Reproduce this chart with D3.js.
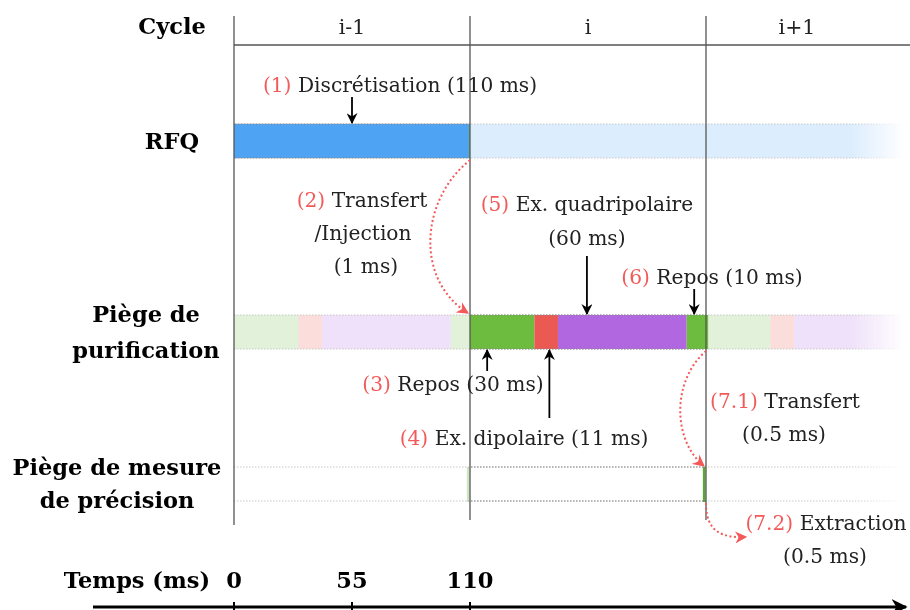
<!DOCTYPE html>
<html>
<head>
<meta charset="utf-8">
<script src="https://cdn.jsdelivr.net/npm/d3@7"></script>
<style>
  body { margin: 0; background: #fff; }
  svg text { font-family: "DejaVu Serif", serif; }
</style>
</head>
<body>
<div id="container"></div>
<script>
/** DATA */
const cycles = ["i-1", "i", "i+1"];
const cycleStart = [0, 110, 220];
const rowNames = [["RFQ"], ["Piège de", "purification"], ["Piège de mesure", "de précision"]];
const rfqDur = 110;          // discretisation
const transferDur = 1;        // transfert / injection
const purifPhases = ["Repos", "Ex. dipolaire", "Ex. quadripolaire", "Repos"];
const purifDur = [30, 11, 60, 10];
const purifColors = ["#6dbb3f", "#eb5a52", "#b067e0", "#6dbb3f"];
const measureDur = [0.5, 0.5]; // transfert, extraction
const timeTicks = [0, 55, 110];

/** LAYOUT */
const width = 910, height = 610;
const red = "#f25a5a";
const barH = 34;
const rowTop = [124, 315, 467];
const fadeOp = 0.2;

const x = d3.scaleLinear().domain([0, 110]).range([234, 470]);

const svg = d3.select("#container").append("svg")
  .attr("width", width).attr("height", height);

const defs = svg.append("defs");
const grad = defs.append("linearGradient").attr("id", "fade")
  .attr("gradientUnits", "userSpaceOnUse")
  .attr("x1", 850).attr("x2", 905).attr("y1", 0).attr("y2", 0);
grad.append("stop").attr("offset", 0).attr("stop-color", "#fff");
grad.append("stop").attr("offset", 1).attr("stop-color", "#000");
defs.append("mask").attr("id", "fadeMask")
  .attr("maskUnits", "userSpaceOnUse")
  .attr("x", 0).attr("y", 0).attr("width", width).attr("height", height)
  .append("rect").attr("width", width).attr("height", height).attr("fill", "url(#fade)");

function marker(id, color, size) {
  defs.append("marker").attr("id", id)
    .attr("viewBox", "0 0 10 10").attr("refX", 9).attr("refY", 5)
    .attr("markerWidth", size).attr("markerHeight", size)
    .attr("markerUnits", "userSpaceOnUse")
    .attr("orient", "auto")
    .append("path").attr("d", "M0,0 L10,5 L0,10 L3,5 Z").attr("fill", color);
}
marker("arrBlack", "#000", 11);
marker("arrRed", red, 12);
marker("arrAxis", "#000", 16);

const faded = svg.append("g").attr("mask", "url(#fadeMask)");
const main = svg.append("g");

// ---- RFQ
const rfqY = rowTop[0];
cycleStart.forEach((s, i) => {
  const g = i === 0 ? main : faded;
  const op = i === 0 ? 1 : fadeOp;
  g.append("rect").attr("x", x(s)).attr("y", rfqY)
    .attr("width", x(s + rfqDur) - x(s)).attr("height", barH)
    .attr("fill", "#4fa3f3").attr("opacity", op);
});
main.append("rect").attr("x", x(rfqDur - transferDur / 2)).attr("y", rfqY)
  .attr("width", x(transferDur / 2) - x(0)).attr("height", barH).attr("fill", "#6dbb3f");

// ---- purification
const pY = rowTop[1];
cycleStart.forEach((s, i) => {
  const g = i === 1 ? main : faded;
  const op = i === 1 ? 1 : fadeOp;
  let t = s;
  purifDur.forEach((d, k) => {
    g.append("rect").attr("x", x(t)).attr("y", pY)
      .attr("width", x(t + d) - x(t)).attr("height", barH)
      .attr("fill", purifColors[k]).attr("opacity", op);
    t += d;
  });
});

// ---- measure trap
const mY = rowTop[2];
cycleStart.slice(0, 2).forEach((s, i) => {
  const tot = d3.sum(measureDur);
  main.append("rect").attr("x", x(s + 110 - tot) - 1).attr("y", mY)
    .attr("width", x(tot) - x(0) + 0.5).attr("height", barH + 1)
    .attr("fill", "#5aa832").attr("opacity", i === 0 ? 0.3 : 1);
});

// dotted borders
rowTop.forEach((ty, r) => {
  [ty, ty + barH].forEach(yy => {
    faded.append("line").attr("x1", x(0)).attr("x2", width)
      .attr("y1", yy).attr("y2", yy)
      .attr("stroke", "#c8c8c8").attr("stroke-width", 1).attr("stroke-dasharray", "1.5,1.5");
  });
});
const active = [[0, 110], [110, 220], [110, 220]];
rowTop.forEach((ty, r) => {
  [ty, ty + barH].forEach(yy => {
    main.append("line").attr("x1", x(active[r][0]) + 1).attr("x2", x(active[r][1]))
      .attr("y1", yy).attr("y2", yy)
      .attr("stroke", "#888").attr("stroke-width", 1).attr("stroke-dasharray", "1.5,1.5");
  });
});

// ---- cycle grid
const grid = svg.append("g");
grid.append("line").attr("x1", x(0)).attr("x2", width).attr("y1", 45).attr("y2", 45)
  .attr("stroke", "#555").attr("stroke-width", 1.3);
cycleStart.forEach((s, i) => {
  grid.append("line").attr("x1", x(s)).attr("x2", x(s))
    .attr("y1", 16).attr("y2", i === 0 ? 525 : 520)
    .attr("stroke", "#555").attr("stroke-width", 1.3);
  grid.append("text").attr("x", x(s + 55) + (i === 2 ? -27 : 0)).attr("y", 27).attr("dy", "0.35em")
    .attr("text-anchor", "middle").attr("font-size", 20.5).attr("fill", "#222").text(cycles[i]);
});

// ---- row labels
const bold = svg.append("g").attr("font-weight", "bold").attr("font-size", 22.5).attr("text-anchor", "middle");
bold.append("text").attr("x", 172).attr("y", 26).attr("dy", "0.35em").text("Cycle");
const labY = [[141], [314, 350], [467, 500]];
rowNames.forEach((lines, r) => {
  lines.forEach((l, k) => {
    bold.append("text").attr("x", r === 2 ? 117 : 146 + (r === 0 ? 26 : 0)).attr("y", labY[r][k])
      .attr("dy", "0.35em").text(l);
  });
});

// ---- annotations
const ann = svg.append("g").attr("font-size", 20.2).attr("text-anchor", "middle");
function label(cx, cy, num, txt) {
  const t = ann.append("text").attr("x", cx).attr("y", cy).attr("dy", "0.35em");
  if (num) t.append("tspan").attr("fill", red).text(num + " ");
  t.append("tspan").attr("fill", "#222").text(txt);
}
function arrow(x1, y1, x2, y2) {
  svg.append("line").attr("x1", x1).attr("y1", y1).attr("x2", x2).attr("y2", y2)
    .attr("stroke", "#000").attr("stroke-width", 1.8).attr("marker-end", "url(#arrBlack)");
}
function curve(pts) {
  const p = d3.path();
  p.moveTo(pts[0][0], pts[0][1]);
  p.bezierCurveTo(pts[1][0], pts[1][1], pts[2][0], pts[2][1], pts[3][0], pts[3][1]);
  svg.append("path").attr("d", p.toString()).attr("fill", "none")
    .attr("stroke", red).attr("stroke-width", 2).attr("stroke-dasharray", "2,2.5")
    .attr("marker-end", "url(#arrRed)");
}

// (1)
label(x(55) + 48, 85, "(1)", "Discrétisation (110 ms)");
arrow(x(55), 97, x(55), rfqY - 1);
// (2)
label(362, 200, "(2)", "Transfert");
label(363, 233, "", "/Injection");
label(366, 266, "", "(1 ms)");
curve([[x(110), rfqY + barH + 2], [420, 200], [415, 280], [x(110) - 2, pY - 2]]);
// (5)
const q0 = 110 + purifDur[0] + purifDur[1];
label(x(q0 + 13.5), 204, "(5)", "Ex. quadripolaire");
label(x(q0 + 13.5), 238, "", "(60 ms)");
arrow(x(q0 + 13.5), 256, x(q0 + 13.5), pY - 1);
// (6)
const r6 = 110 + purifDur[0] + purifDur[1] + purifDur[2];
label(712, 277, "(6)", "Repos (10 ms)");
arrow(x(r6 + 3.5), 289, x(r6 + 3.5), pY - 1);
// (3)
label(453, 384, "(3)", "Repos (30 ms)");
arrow(x(118), 371, x(118), pY + barH + 1);
// (4)
label(524, 438, "(4)", "Ex. dipolaire (11 ms)");
arrow(x(147), 418, x(147), pY + barH + 1);
// (7.1)
label(785, 401, "(7.1)", "Transfert");
label(784, 434, "", "(0.5 ms)");
curve([[x(220), pY + barH + 2], [672, 380], [672, 440], [x(220) - 2, mY - 1]]);
// (7.2)
label(826, 523, "(7.2)", "Extraction");
label(825, 556, "", "(0.5 ms)");
curve([[x(220), mY + barH + 2], [x(220), 532], [722, 538], [746, 537]]);

// ---- time axis
const axY = 607;
svg.append("line").attr("x1", 93).attr("x2", 906).attr("y1", axY).attr("y2", axY)
  .attr("stroke", "#000").attr("stroke-width", 3).attr("marker-end", "url(#arrAxis)");
const axis = svg.append("g").attr("font-weight", "bold").attr("font-size", 22.5).attr("text-anchor", "middle");
axis.append("text").attr("x", 137).attr("y", 580).attr("dy", "0.35em").text("Temps (ms)");
axis.selectAll(".tk").data(timeTicks).join("text").attr("class", "tk")
  .attr("x", d => x(d)).attr("y", 580).attr("dy", "0.35em").text(d => d);
svg.selectAll(".tl").data(timeTicks).join("line").attr("class", "tl")
  .attr("x1", d => x(d)).attr("x2", d => x(d)).attr("y1", axY - 5).attr("y2", axY + 3)
  .attr("stroke", "#000").attr("stroke-width", 2);
</script>
</body>
</html>
